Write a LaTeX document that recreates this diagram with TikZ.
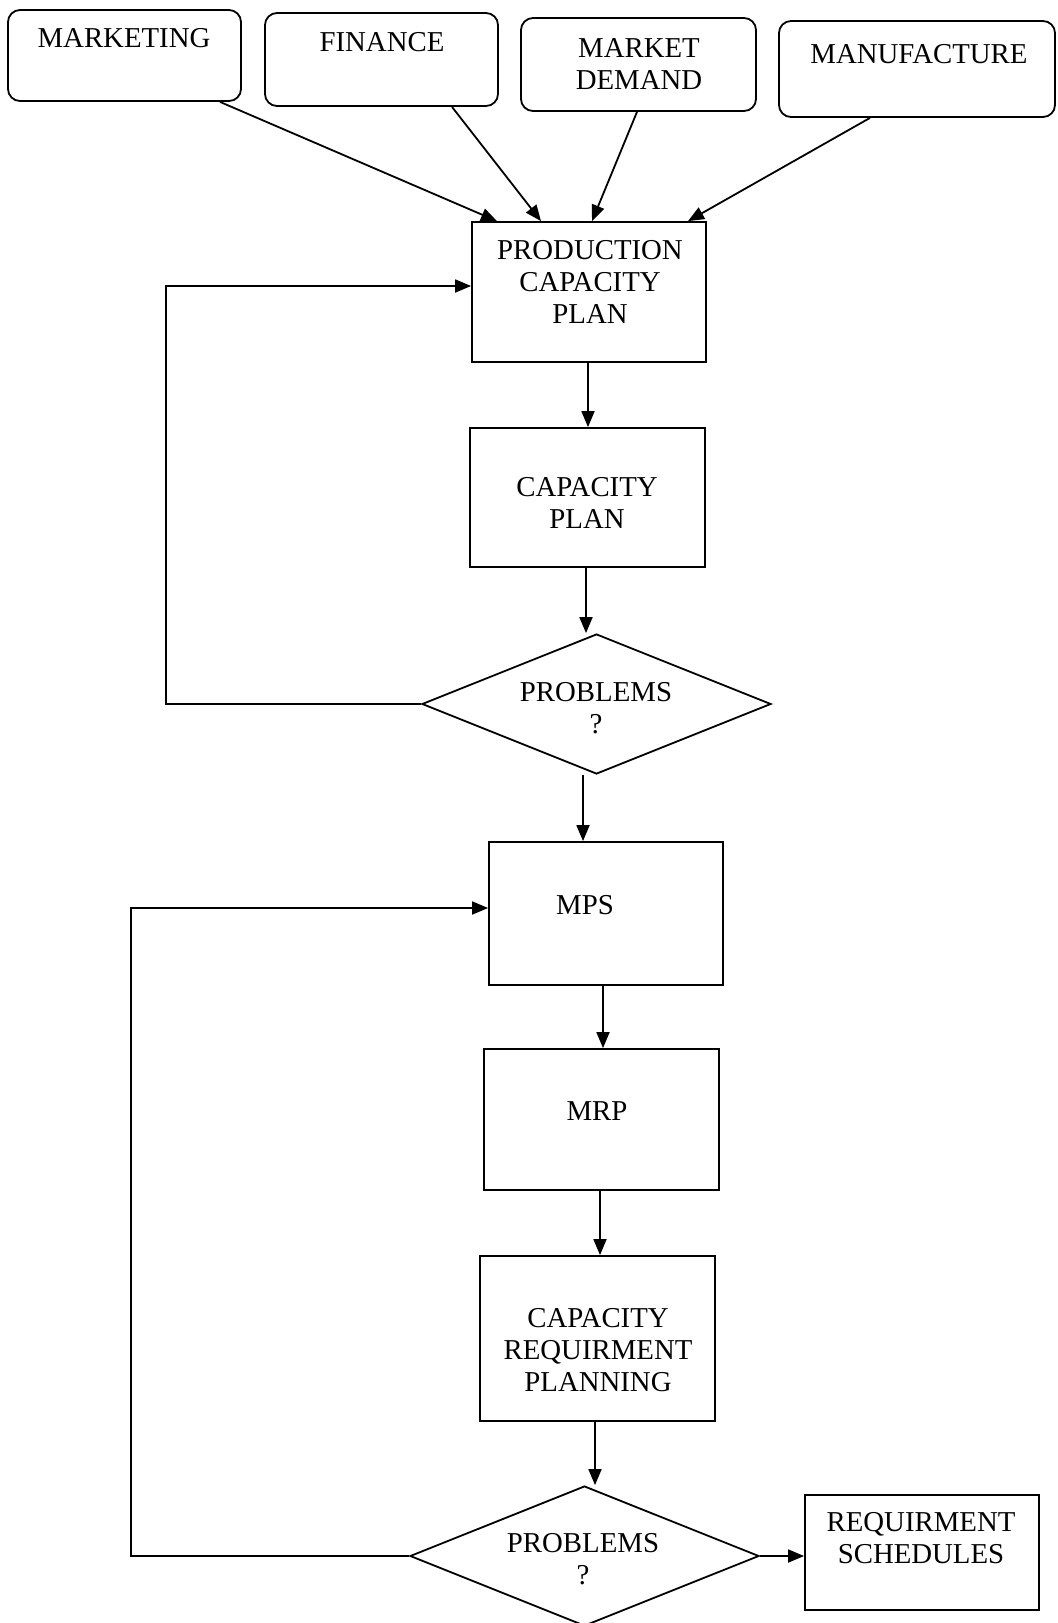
\documentclass[tikz,border=0pt]{standalone}
\usepackage{fontspec}
\setmainfont{Liberation Serif}
\usetikzlibrary{shapes.geometric,arrows.meta}
\begin{document}
\begin{tikzpicture}[x=0.5pt,y=-0.5pt,
  box/.style={draw, line width=0.9pt, inner sep=0pt},
  topbox/.style={box, rounded corners=6pt},
  dia/.style={draw, line width=0.9pt, diamond, inner sep=0pt, minimum width=174.5pt, minimum height=70pt},
  txt/.style={font=\fontsize{14.4}{16}\selectfont, align=center, inner sep=0pt},
  arr/.style={line width=0.9pt, -{Triangle[length=8pt,width=6.5pt]}},
  ln/.style={line width=0.9pt}]
\useasboundingbox (0,0) rectangle (1058,1623);
% top boxes
\node[topbox, minimum width=116.5pt, minimum height=45.5pt] (mkt) at (124.5,55.5) {};
\node[topbox, minimum width=116.5pt, minimum height=46.5pt] (fin) at (381.5,59.5) {};
\node[topbox, minimum width=117.5pt, minimum height=46.5pt] (mdm) at (638.5,64.5) {};
\node[topbox, minimum width=138pt, minimum height=48pt] (mfg) at (917,69) {};
\node[txt] (mktT) at (124,38) {MARKETING};
\node[txt] (finT) at (382,42) {FINANCE};
\node[txt] (mdmT) at (639,64) {MARKET\\DEMAND};
\node[txt] (mfgT) at (919,54) {MANUFACTURE};
% main chain
\node[box, minimum width=117pt, minimum height=70pt] (pcp) at (589,292) {};
\node[txt] (pcpT) at (590,282) {PRODUCTION\\CAPACITY\\PLAN};
\node[box, minimum width=117.5pt, minimum height=69.5pt] (cp) at (587.5,497.5) {};
\node[txt] (cpT) at (587,503) {CAPACITY\\PLAN};
\node[dia] (d1) at (596.5,704) {};
\node[txt] (d1T) at (596,708) {PROBLEMS\\?};
\node[box, minimum width=117pt, minimum height=71.5pt] (mps) at (606,913.5) {};
\node[txt] (mpsT) at (585,905) {MPS};
\node[box, minimum width=117.5pt, minimum height=70.5pt] (mrp) at (601.5,1119.5) {};
\node[txt] (mrpT) at (597,1111) {MRP};
\node[box, minimum width=117.5pt, minimum height=82.5pt] (crp) at (597.5,1338.5) {};
\node[txt] (crpT) at (598,1350) {CAPACITY\\REQUIRMENT\\PLANNING};
\node[dia, minimum height=70pt] (d2) at (584.5,1556) {};
\node[txt] (d2T) at (583,1559) {PROBLEMS\\?};
\node[box, minimum width=117pt, minimum height=57.5pt] (rs) at (922,1552.5) {};
\node[txt] (rsT) at (921,1538) {REQUIRMENT\\SCHEDULES};
% input arrows
\draw[arr] (mkt.south -| 220,0) -- (pcp.north -| 497,0);
\draw[arr] (fin.south -| 452,0) -- (pcp.north -| 541,0);
\draw[arr] (mdm.south -| 637,0) -- (pcp.north -| 592,0);
\draw[arr] (mfg.south -| 870,0) -- (pcp.north -| 688,0);
% vertical flow
\draw[arr] (pcp.south -| 588,0) -- (cp.north -| 588,0);
\draw[arr] (cp.south -| 586,0) -- (d1.north -| 586,0);
\draw[arr] (d1.south -| 583,0) -- (mps.north -| 583,0);
\draw[arr] (mps.south -| 603,0) -- (mrp.north -| 603,0);
\draw[arr] (mrp.south -| 600,0) -- (crp.north -| 600,0);
\draw[arr] (crp.south -| 595,0) -- (d2.north -| 595,0);
\draw[arr] (d2.east) -- (rs.west |- d2.east);
% feedback loops
\coordinate (l1a) at (166,704);
\coordinate (l1b) at (166,286);
\draw[arr] (d1.west) -- (l1a) -- (l1b) -- (pcp.west |- l1b);
\coordinate (l2a) at (131,1556);
\coordinate (l2b) at (131,908);
\draw[arr] (d2.west) -- (l2a) -- (l2b) -- (mps.west |- l2b);
\end{tikzpicture}
\end{document}
